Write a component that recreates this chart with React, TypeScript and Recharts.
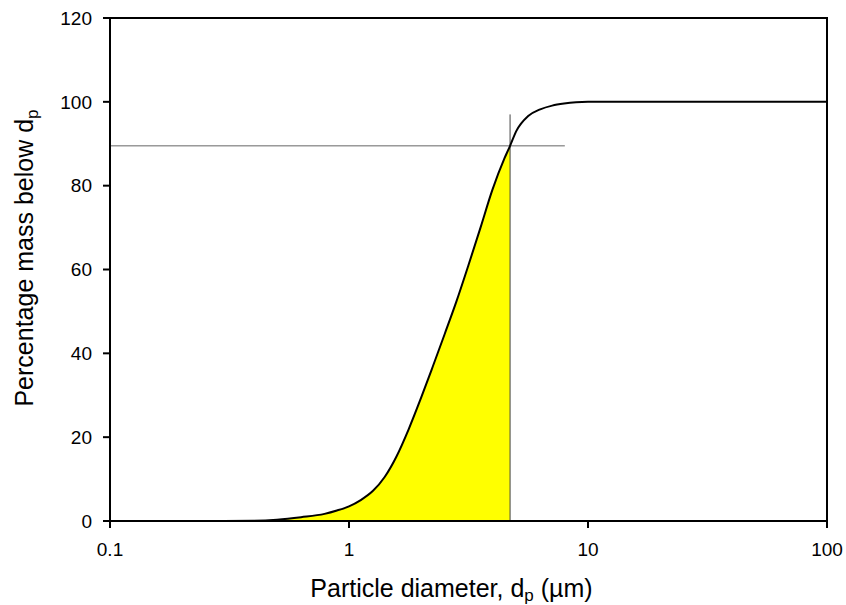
import {
  Area,
  ComposedChart,
  Line,
  ReferenceArea,
  ReferenceLine,
  XAxis,
  YAxis,
} from 'recharts'

const diameters = [
  0.1, 0.2, 0.3, 0.4, 0.5, 0.63, 0.79, 0.89, 1, 1.12, 1.26, 1.41, 1.58, 1.78,
  2, 2.24, 2.51, 2.82, 3.16, 3.55, 3.98, 4.47, 4.72, 5.01, 5.62, 6.31, 7.08,
  7.94, 8.91, 10, 20, 50, 100,
]
const massBelow = [
  0, 0, 0, 0.05, 0.3, 0.9, 1.7, 2.5, 3.5, 5, 7.2, 10.5, 15.4, 22, 29.3, 36.8,
  44.5, 52.5, 61, 70, 79, 86.5, 89.5, 93, 96.6, 98.2, 99.1, 99.6, 99.9, 100,
  100, 100, 100,
]
const xTicks = [0.1, 1, 10, 100]
const yTicks = [0, 20, 40, 60, 80, 100, 120]
const cutDiameter = 4.72
const cutPercent = 89.5
const cutLineTop = 97
const cutLineEnd = 8

const data = diameters.map((d, i) => ({
  d,
  mass: massBelow[i],
  shaded: d <= cutDiameter ? massBelow[i] : null,
}))

const font = '"Liberation Sans", Arial, sans-serif'

function XTitle(props: any) {
  const vb = props.viewBox
  return (
    <text
      x={vb.x + vb.width / 2 - 17}
      y={597}
      textAnchor="middle"
      fontFamily={font}
      fontSize={25}
      fill="#000"
    >
      Particle diameter, d
      <tspan fontSize={17} dy={4}>p</tspan>
      <tspan dy={-4}> (µm)</tspan>
    </text>
  )
}

function YTitle() {
  return (
    <text
      transform="translate(33, 258) rotate(-90)"
      textAnchor="middle"
      fontFamily={font}
      fontSize={25}
      fill="#000"
    >
      Percentage mass below d
      <tspan fontSize={17} dy={5}>p</tspan>
    </text>
  )
}

export default function App() {
  return (
    <div style={{ position: 'absolute', left: 0, top: 0 }}>
      <ComposedChart
        width={846}
        height={605}
        data={data}
        margin={{ top: 18, right: 19, bottom: 0, left: 0 }}
      >
        <XAxis
          dataKey="d"
          type="number"
          scale="log"
          domain={[0.1, 100]}
          ticks={xTicks}
          tickFormatter={(v) => String(v)}
          allowDataOverflow
          height={84}
          tickSize={7}
          tickMargin={15}
          stroke="#000"
          strokeWidth={2}
          tick={{ fill: '#000', fontSize: 19, fontFamily: font }}
          label={<XTitle />}
        />
        <YAxis
          type="number"
          domain={[0, 120]}
          ticks={yTicks}
          width={110}
          tickSize={7}
          tickMargin={11}
          stroke="#000"
          strokeWidth={2}
          tick={{ fill: '#000', fontSize: 19, fontFamily: font }}
          label={<YTitle />}
        />
        <ReferenceArea
          x1={0.1}
          x2={100}
          y1={0}
          y2={120}
          fill="none"
          stroke="#000"
          strokeWidth={2}
        />
        <Area
          dataKey="shaded"
          type="monotone"
          fill="#ffff00"
          fillOpacity={1}
          stroke="none"
          isAnimationActive={false}
        />
        <ReferenceLine
          segment={[
            { x: cutDiameter, y: 0 },
            { x: cutDiameter, y: cutLineTop },
          ]}
          stroke="#444"
          strokeWidth={1}
        />
        <ReferenceLine
          segment={[
            { x: 0.1, y: cutPercent },
            { x: cutLineEnd, y: cutPercent },
          ]}
          stroke="#666"
          strokeWidth={1}
        />
        <Line
          dataKey="mass"
          type="monotone"
          stroke="#000"
          strokeWidth={2}
          dot={false}
          isAnimationActive={false}
        />
      </ComposedChart>
    </div>
  )
}
